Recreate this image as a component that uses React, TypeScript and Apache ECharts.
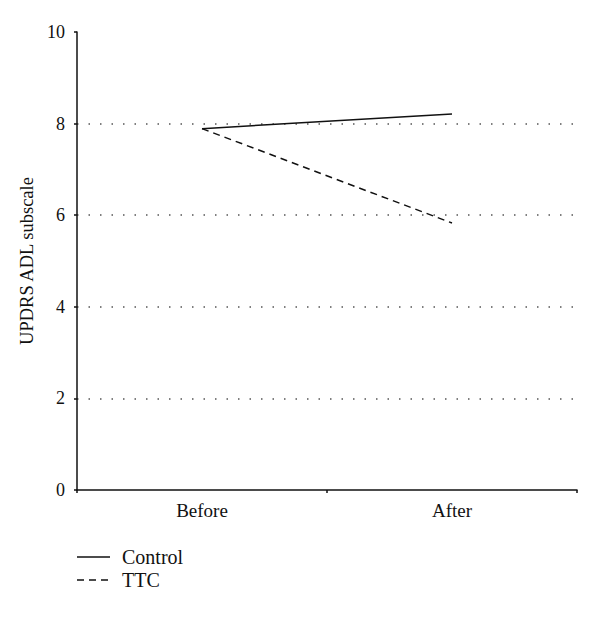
import React, { useEffect, useRef } from "react";
import * as echarts from "echarts";

const categories = ["Before", "After"];
const controlValues = [7.89, 8.21];
const ttcValues = [7.89, 5.83];
const yTicks = [0, 2, 4, 6, 8, 10];
const yAxisName = "UPDRS ADL subscale";
const legendNames = ["Control", "TTC"];

const FONT = "Liberation Serif, Times New Roman, serif";

export default function App() {
  const ref = useRef<HTMLDivElement>(null);
  useEffect(() => {
    if (!ref.current) return;
    const chart = echarts.init(ref.current, undefined, { renderer: "svg" });
    const legendGraphics: any[] = [];
    legendNames.forEach((name, i) => {
      const y = 557 + i * 23;
      legendGraphics.push({
        type: "line",
        shape: { x1: 77, y1: y, x2: 110, y2: y },
        style: { stroke: "#111", lineWidth: 1.5, lineDash: i === 0 ? null : [7, 5] },
      });
      legendGraphics.push({
        type: "text",
        x: 122,
        y,
        style: {
          text: name,
          fontFamily: FONT,
          fontSize: 20,
          fill: "#111",
          verticalAlign: "middle",
          align: "left",
        },
      });
    });
    chart.setOption({
      animation: false,
      textStyle: { fontFamily: FONT },
      grid: { left: 77, top: 32, right: 23, bottom: 127, containLabel: false },
      graphic: legendGraphics,
      xAxis: {
        type: "category",
        data: categories,
        boundaryGap: true,
        axisLine: { lineStyle: { color: "#111", width: 1.5 } },
        axisTick: { show: true, length: 3, lineStyle: { color: "#111", width: 1.5 } },
        axisLabel: { fontFamily: FONT, fontSize: 19, color: "#111", margin: 11 },
        splitLine: { show: false },
      },
      yAxis: {
        type: "value",
        min: yTicks[0],
        max: yTicks[yTicks.length - 1],
        interval: 2,
        name: yAxisName,
        nameLocation: "middle",
        nameGap: 38,
        nameTextStyle: { fontFamily: FONT, fontSize: 18.5, color: "#111" },
        axisLine: { show: true, lineStyle: { color: "#111", width: 1.5 } },
        axisTick: { show: true, length: 3, lineStyle: { color: "#111", width: 1.5 } },
        axisLabel: { fontFamily: FONT, fontSize: 18, color: "#111", margin: 12 },
        splitLine: {
          show: true,
          showMinLine: false,
          showMaxLine: false,
          lineStyle: { color: "#555", width: 1.5, type: [1.5, 10] },
        },
      },
      series: [
        {
          name: "Control",
          type: "line",
          data: controlValues,
          symbol: "none",
          lineStyle: { color: "#111", width: 1.5, type: "solid" },
          itemStyle: { color: "#111" },
        },
        {
          name: "TTC",
          type: "line",
          data: ttcValues,
          symbol: "none",
          lineStyle: { color: "#111", width: 1.5, type: [7, 5] },
          itemStyle: { color: "#111" },
        },
      ],
    });
    return () => chart.dispose();
  }, []);
  return <div ref={ref} style={{ width: 600, height: 617, margin: -8 }} />;
}
